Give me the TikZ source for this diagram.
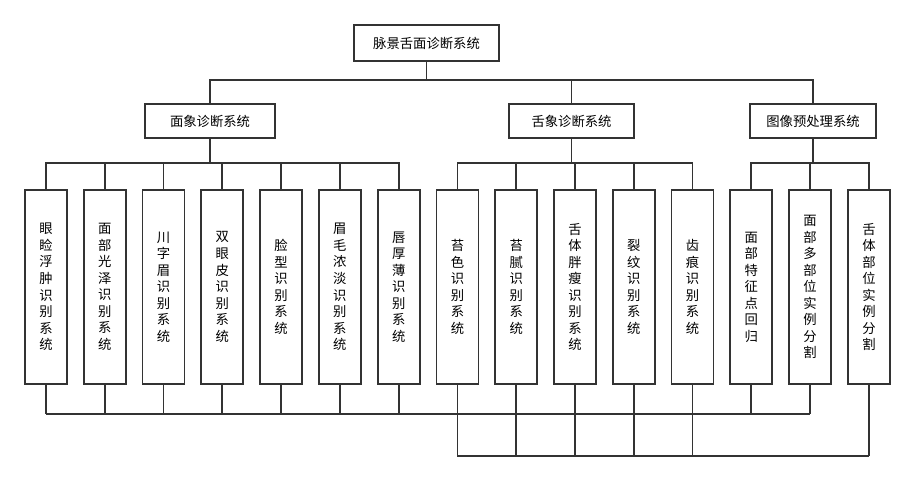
\documentclass[tikz,border=0pt]{standalone}
\usepackage{fontspec}
\newfontfamily\cjk{Noto Sans CJK SC}
\usetikzlibrary{positioning,calc}

\tikzset{
  box/.style={draw=black!80,line width=1.3pt,fill=white,inner sep=0pt,
    font=\cjk\fontsize{10}{12.4}\selectfont,align=center},
  leaf/.style={box,minimum width=31.5pt,minimum height=145.5pt},
  link/.style={draw=black!80,line width=1.3pt}
}

\begin{document}
\begin{tikzpicture}[x=0.75pt,y=-0.75pt]
\useasboundingbox (0,0) rectangle (915,481);
% top level
\node[box,minimum width=109pt,minimum height=27pt] (root) at (426.5,43) {脉景舌面诊断系统};
% second level
\node[box,minimum width=97.5pt,minimum height=25.5pt] (face) at (210,121) {面象诊断系统};
\node[box,minimum width=94pt,minimum height=25.5pt] (tongue) at (571.5,121) {舌象诊断系统};
\node[box,minimum width=94.5pt,minimum height=25.5pt] (img) at (813,121) {图像预处理系统};
% leaves
\foreach \i/\t in {1/{眼\\睑\\浮\\肿\\识\\别\\系\\统},2/{面\\部\\光\\泽\\识\\别\\系\\统},
  3/{川\\字\\眉\\识\\别\\系\\统},4/{双\\眼\\皮\\识\\别\\系\\统},5/{脸\\型\\识\\别\\系\\统},
  6/{眉\\毛\\浓\\淡\\识\\别\\系\\统},7/{唇\\厚\\薄\\识\\别\\系\\统},8/{苔\\色\\识\\别\\系\\统},
  9/{苔\\腻\\识\\别\\系\\统},10/{舌\\体\\胖\\瘦\\识\\别\\系\\统},11/{裂\\纹\\识\\别\\系\\统},
  12/{齿\\痕\\识\\别\\系\\统},13/{面\\部\\特\\征\\点\\回\\归},14/{面\\部\\多\\部\\位\\实\\例\\分\\割},
  15/{舌\\体\\部\\位\\实\\例\\分\\割}}
  \node[leaf] (L\i) at ({46+58.78*(\i-1)},287) {\t};

\coordinate (busA) at (0,80);
\coordinate (busB) at (0,163);
\coordinate (botA) at (0,414);
\coordinate (botB) at (0,456);

% root to second level
\foreach \n in {face,tongue,img}
  \draw[link] (root.south) |- (busA -| \n) -- (\n.north);
% second level to leaves
\foreach \i in {1,...,7}
  \draw[link] (face.south) |- (busB -| L\i) -- (L\i.north);
\foreach \i in {8,...,12}
  \draw[link] (tongue.south) |- (busB -| L\i) -- (L\i.north);
\foreach \i in {13,14,15}
  \draw[link] (img.south) |- (busB -| L\i) -- (L\i.north);

% bottom links
\draw[link] (L1.south |- botA) -- (L14.south |- botA);
\foreach \i in {1,...,7,13,14}
  \draw[link] (L\i.south) -- (L\i.south |- botA);
\draw[link] (L8.south |- botB) -- (L15.south |- botB);
\foreach \i in {8,...,12,15}
  \draw[link] (L\i.south) -- (L\i.south |- botB);
\end{tikzpicture}
\end{document}
